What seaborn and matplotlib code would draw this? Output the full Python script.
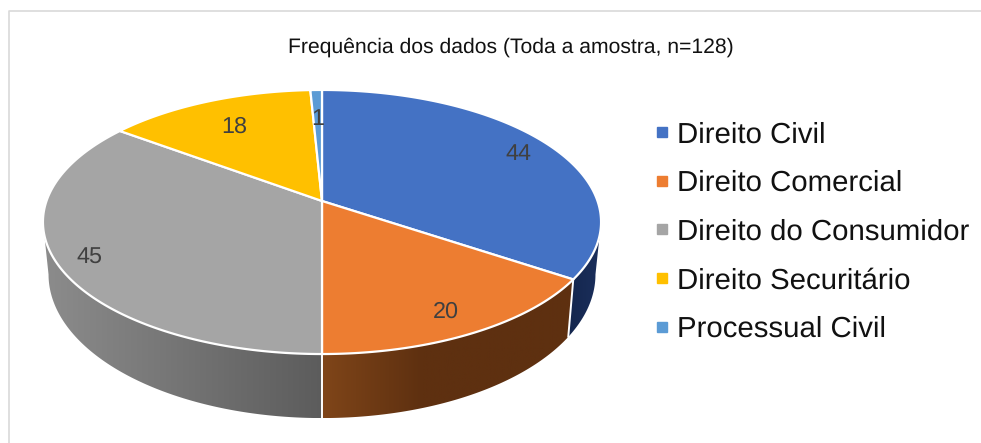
import numpy as np
import matplotlib
matplotlib.use('Agg')
import matplotlib.pyplot as plt
from matplotlib.patches import Polygon
import seaborn as sns

# Chart data
title = 'Frequência dos dados (Toda a amostra, n=128)'
categories = ['Direito Civil', 'Direito Comercial', 'Direito do Consumidor', 'Direito Securitário', 'Processual Civil']
values = [44, 20, 45, 18, 1]

# Colours
top_colors = ['#4472C4', '#ED7D31', '#A5A5A5', '#FFC000', '#5B9BD5']
wall_left = ['#14264D', '#7F4519', '#8C8C8C', '#7F6000', '#2E4E6B']
wall_right = ['#1B2F5C', '#5E3010', '#5C5C5C', '#7F6000', '#2E4E6B']
wall_ramp = [1.0, 0.4, 1.0, 1.0, 1.0]
label_radius = [0.86, 0.84, 0.885, 0.75, 0.73]

sns.set_theme(style='white')
plt.rcParams['font.family'] = ['Liberation Sans', 'DejaVu Sans']
plt.rcParams['text.hinting'] = 'none'
plt.rcParams['text.hinting_factor'] = 8
palette = sns.color_palette(top_colors)

# Perspective of the pie (pixels of the figure)
cx, cy = 322, 201
a, b, c = 275.5, 128.7, 0.159
base_cy, base_b, base_scale = 251.6, 140, 0.98
# the wall is visible between the widest points of the ellipse
wall_lo = np.arccos(-c)
wall_hi = 2 * np.pi - wall_lo


def top_xy(t, r=1.0):
    # t is clockwise from 12 o'clock, in radians
    x = r * np.sin(t)
    y = r * np.cos(t)
    w = 1 + c * y
    return cx + a * x / w, cy - b * y / w


def base_xy(t):
    x = np.sin(t)
    y = np.cos(t)
    w = 1 + c * y
    return cx + base_scale * a * x / w, base_cy - base_b * y / w


fig, ax = plt.subplots(figsize=(9.81, 4.43), dpi=100)
fig.subplots_adjust(0, 0, 1, 1)
ax.axis('off')

# Chart frame
ax.plot([8.5, 8.5, 981], [443, 10.5, 10.5], color='#D9D9D9', lw=1.2, zorder=1)

shares = np.array(values) / sum(values) * 2 * np.pi
ends = np.cumsum(shares)
starts = ends - shares

# Side wall, only the part facing the viewer, with a gradient from left to right
for i in range(len(values)):
    lo = max(starts[i], wall_lo)
    hi = min(ends[i], wall_hi)
    if hi <= lo:
        continue
    ts = np.linspace(lo, hi, 200)
    tx, ty = top_xy(ts)
    bx, by = base_xy(ts)
    xs = np.r_[tx, bx[::-1]]
    ys = np.r_[ty, by[::-1]]
    poly = Polygon(np.c_[xs, ys], closed=True, facecolor='none', edgecolor='none', transform=ax.transData)
    ax.add_patch(poly)
    c0 = np.array(matplotlib.colors.to_rgb(wall_left[i]))
    c1 = np.array(matplotlib.colors.to_rgb(wall_right[i]))
    f = np.clip(np.linspace(0, 1, 256) / wall_ramp[i], 0, 1)[None, :, None]
    grad = c0[None, None, :] + (c1 - c0)[None, None, :] * f
    im = ax.imshow(grad, extent=(xs.min(), xs.max(), ys.max(), ys.min()), aspect='auto', zorder=2)
    im.set_clip_path(poly)

# White joints on the wall
for t in ends:
    if wall_lo < t < wall_hi:
        tx, ty = top_xy(t)
        bx, by = base_xy(t)
        ax.plot([tx, bx], [ty, by], color='white', lw=1.4, zorder=3)

# Top of the pie
for i in range(len(values)):
    ts = np.linspace(starts[i], ends[i], 200)
    x, y = top_xy(ts)
    ax.fill(np.r_[cx, x], np.r_[cy, y], facecolor=palette[i], edgecolor='white', lw=1.6, joinstyle='round', zorder=4)

# Data labels
mids = starts + shares / 2
for i, v in enumerate(values):
    x, y = top_xy(mids[i], label_radius[i])
    ax.text(x, y, str(v), ha='center', va='center_baseline', fontsize=16.8, color='#404040', zorder=5)

ax.text(511, 47, title, ha='center', va='center', fontsize=15.2, color='#111111', zorder=5)

ax.set_xlim(0, 981)
ax.set_ylim(443, 0)

# Legend
handles = [plt.Line2D([], [], ls='', marker='s', ms=7, color=palette[i]) for i in range(len(categories))]
ax.legend(handles, categories, loc='upper left', bbox_to_anchor=(0.666, 0.726), frameon=False,
          fontsize=21.2, labelspacing=0.735, handlelength=0.6, handletextpad=0.21, labelcolor='#111111',
          borderpad=0, borderaxespad=0)

plt.savefig('out.png', dpi=100)
